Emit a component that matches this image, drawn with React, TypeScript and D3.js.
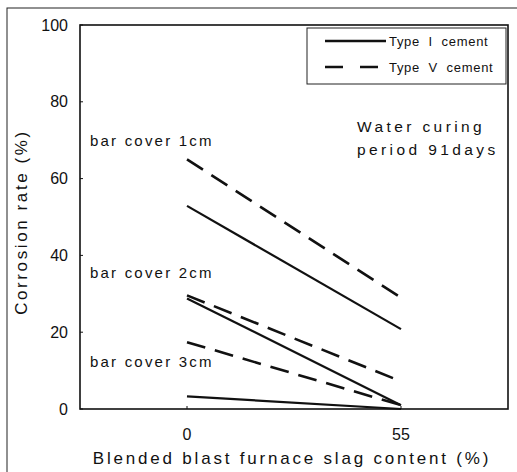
import React from "react";
import * as d3 from "d3";

const slag = [0, 55];
const xTicks = [0, 55];
const yTicks = [0, 20, 40, 60, 80, 100];
const covers = ["bar cover 1cm", "bar cover 2cm", "bar cover 3cm"];
const typeI = [
  [52.9, 20.8],
  [28.8, 1],
  [3.3, 0],
];
const typeV = [
  [65, 29],
  [29.6, 7.2],
  [17.4, 1],
];
const coverLabelY = [68.5, 34, 11];
const legendLabels = ["Type  I  cement", "Type  V  cement"];

const W = 517;
const H = 472;
const left = 80;
const right = 508;
const top = 25;
const bottom = 409;

export default function App() {
  const x = d3.scaleLinear().domain([-27.5, 82.5]).range([left, right]);
  const y = d3.scaleLinear().domain([0, 100]).range([bottom, top]);
  const line = d3
    .line<[number, number]>()
    .x((d) => x(d[0]))
    .y((d) => y(d[1]));
  const font = "'Liberation Sans', Arial, sans-serif";

  return (
    <svg
      width={W}
      height={H}
      style={{ position: "absolute", left: 0, top: 0, background: "#fff" }}
      fontFamily={font}
    >
      {/* outer frame */}
      <rect x={7} y={8} width={W + 10} height={H + 10} fill="none" stroke="#222" strokeWidth={1} />
      {/* plot frame */}
      <rect x={left} y={top} width={right - left} height={bottom - top} fill="none" stroke="#111" strokeWidth={1.6} />
      {/* y ticks */}
      {yTicks.map((t) => (
        <g key={"y" + t}>
          <line x1={left} x2={left + 3} y1={y(t)} y2={y(t)} stroke="#111" strokeWidth={1} />
          <text x={68} y={y(t)} dy="0.35em" textAnchor="end" fontSize={16} fill="#111">
            {t}
          </text>
        </g>
      ))}
      {/* x ticks */}
      {xTicks.map((t) => (
        <g key={"x" + t}>
          <line x1={x(t)} x2={x(t)} y1={bottom} y2={bottom - 3} stroke="#111" strokeWidth={1} />
          <text x={x(t)} y={440} textAnchor="middle" fontSize={16} fill="#111">
            {t}
          </text>
        </g>
      ))}
      <text x={292} y={464} textAnchor="middle" fontSize={17} letterSpacing={2.8} fill="#111">
        Blended blast furnace slag content (%)
      </text>
      <text
        transform={`translate(27,222) rotate(-90)`}
        textAnchor="middle"
        fontSize={17}
        letterSpacing={2.6}
        fill="#111"
      >
        Corrosion rate (%)
      </text>
      {/* series */}
      {typeI.map((v, i) => (
        <path
          key={"I" + i}
          d={line(slag.map((s, j) => [s, v[j]]) as [number, number][]) || ""}
          fill="none"
          stroke="#111"
          strokeWidth={2.2}
        />
      ))}
      {typeV.map((v, i) => (
        <path
          key={"V" + i}
          d={line(slag.map((s, j) => [s, v[j]]) as [number, number][]) || ""}
          fill="none"
          stroke="#111"
          strokeWidth={2.6}
          strokeDasharray="19,10"
        />
      ))}
      {covers.map((c, i) => (
        <text key={c} x={90} y={y(coverLabelY[i])} fontSize={15} letterSpacing={2.2} fill="#111">
          {c}
        </text>
      ))}
      <text x={357} y={132} fontSize={15.5} letterSpacing={3.4} fill="#111">
        Water curing
      </text>
      <text x={357} y={155} fontSize={15.5} letterSpacing={3.4} fill="#111">
        period 91days
      </text>
      {/* legend */}
      <rect x={307} y={28} width={199} height={56} fill="#fff" stroke="#222" strokeWidth={1} />
      <line x1={325} x2={386} y1={41} y2={41} stroke="#111" strokeWidth={2.4} />
      <line x1={325} x2={386} y1={67} y2={67} stroke="#111" strokeWidth={2.4} strokeDasharray="18,17" />
      {legendLabels.map((l, i) => (
        <text key={l} x={389} y={41 + i * 26} dy="0.35em" fontSize={13} letterSpacing={0.7} fill="#111" style={{ whiteSpace: "pre" }}>
          {l}
        </text>
      ))}
    </svg>
  );
}
